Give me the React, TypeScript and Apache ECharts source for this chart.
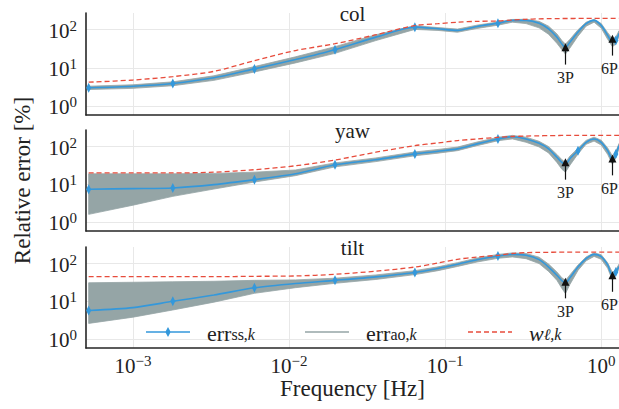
import React, { useEffect, useRef } from 'react';
import * as echarts from 'echarts';

// ---------- data ----------
const FREQ = [0.00052, 0.001, 0.0018, 0.0033, 0.006, 0.011, 0.0197, 0.036, 0.064, 0.09, 0.12, 0.16, 0.218, 0.27, 0.33, 0.40, 0.46, 0.52, 0.56, 0.59, 0.63, 0.71, 0.80, 0.90, 1.00, 1.10, 1.18, 1.24, 1.30];

const PANEL_TITLES = ['col', 'yaw', 'tilt'];

const SS_COL = [3.0, 3.3, 3.9, 5.5, 9.4, 16.5, 30, 64, 117, 106, 96, 122, 149, 176, 176, 149, 106, 64, 42, 34, 47, 87, 144, 176, 130, 71, 48, 52, 80];
const W_COL = [4.2, 4.8, 5.9, 8.1, 15.5, 28.5, 43, 74, 129, 144, 158, 166, 170, 180, 188, 193, 195, 196, 197, 197, 197, 198, 198, 198, 198, 198, 198, 198, 198];
const LO_COL = [2.7, 2.9, 3.4, 4.7, 7.8, 13.5, 24, 52, 102, 96, 86, 108, 132, 158, 145, 112, 76, 44, 30, 23, 33, 68, 124, 158, 110, 56, 36, 42, 66];
const HI_COL = [3.3, 3.6, 4.3, 6.2, 10.8, 19.5, 36, 74, 128, 114, 104, 132, 160, 186, 188, 166, 124, 78, 52, 42, 56, 100, 158, 188, 146, 84, 58, 64, 94];

const SS_YAW = [7.4, 7.7, 8.0, 9.8, 13.3, 19, 33, 45, 64, 75, 87, 118, 159, 183, 159, 122, 87, 52, 38, 33, 48, 78, 130, 159, 130, 78, 46, 64, 106];
const W_YAW = [20, 20, 20, 21, 24.4, 31, 44, 71, 106, 125, 144, 159, 176, 185, 190, 193, 195, 196, 197, 197, 197, 198, 198, 198, 198, 198, 198, 198, 198];
const LO_YAW = [1.6, 2.8, 4.8, 7.5, 11.5, 17, 29, 40, 57, 67, 78, 106, 143, 160, 130, 98, 68, 38, 25, 21, 32, 64, 115, 140, 110, 62, 34, 50, 88];
const HI_YAW = [19, 19, 19, 19.5, 21, 24, 37, 50, 72, 84, 97, 132, 176, 198, 178, 138, 100, 62, 45, 38, 56, 90, 146, 178, 148, 92, 56, 74, 120];

const SS_TILT = [5.7, 6.8, 10, 14.7, 22.8, 29.7, 36, 44.5, 58, 74, 96, 127, 159, 175, 166, 127, 81, 49, 35, 30, 42, 81, 135, 175, 153, 92, 48, 60, 83];
const W_TILT = [45, 45, 45, 45, 46, 47, 52, 63, 81, 104, 130, 149, 166, 185, 195, 198, 199, 200, 200, 200, 200, 200, 200, 200, 200, 200, 200, 200, 200];
const LO_TILT = [2.6, 3.8, 5.9, 9.5, 16.3, 23, 30, 38, 51, 65, 84, 110, 138, 150, 135, 100, 62, 36, 22, 16, 28, 66, 118, 155, 130, 75, 36, 50, 72];
const HI_TILT = [31, 32, 33, 34, 36, 37, 41, 50, 65, 82, 106, 140, 175, 192, 185, 148, 97, 60, 42, 36, 50, 92, 150, 192, 172, 105, 58, 70, 96];

// indices of FREQ that carry a diamond marker
const MARKS_COL = [0, 2, 4, 6, 8, 12, 27];
const MARKS_YAW = [0, 2, 4, 6, 8, 12, 21, 27];
const MARKS_TILT = [0, 2, 4, 6, 8, 12, 27];

// harmonic annotations
const ARROW_FREQ = [0.59, 1.18];
const ARROW_LABELS = ['3P', '6P'];
const ARROW_TIP_COL = [35, 58];
const ARROW_TAIL_COL = [12.2, 21];
const ARROW_TIP_YAW = [38.6, 48.3];
const ARROW_TAIL_YAW = [13.3, 17.3];
const ARROW_TIP_TILT = [32.8, 49.2];
const ARROW_TAIL_TILT = [12, 17.9];
const ARROW_LABEL_SHIFT = [0, -3];

const X_MIN = 5e-4;
const X_MAX = 1.3;
const Y_MIN = 0.58;
const Y_MAX = 275;

const LEGEND_NAMES = ['ss', 'ao', 'w'];

// ---------- style ----------
const FONT = "'Liberation Serif', 'DejaVu Serif', serif";
const TXT = '#222222';
const BLUE = '#3498db';
const GREY = '#95a5a6';
const RED = '#e74c3c';
const GRID_COLOR = '#e8e8e8';
const SPINE = '#262626';

const PANELS = [
  { ss: SS_COL, w: W_COL, lo: LO_COL, hi: HI_COL, marks: MARKS_COL, tip: ARROW_TIP_COL, tail: ARROW_TAIL_COL },
  { ss: SS_YAW, w: W_YAW, lo: LO_YAW, hi: HI_YAW, marks: MARKS_YAW, tip: ARROW_TIP_YAW, tail: ARROW_TAIL_YAW },
  { ss: SS_TILT, w: W_TILT, lo: LO_TILT, hi: HI_TILT, marks: MARKS_TILT, tip: ARROW_TIP_TILT, tail: ARROW_TAIL_TILT },
];

const GRIDS = [
  { left: 86, right: 0, top: 13, height: 102 },
  { left: 86, right: 0, top: 130, height: 101 },
  { left: 86, right: 0, top: 247, height: 101 },
];

function powLabel(v: number): string {
  const l = Math.log10(v);
  const e = Math.round(l);
  if (Math.abs(l - e) > 1e-6) return '';
  const s = e < 0 ? '\u2212' + Math.abs(e) : String(e);
  return '{b|10}{s|' + s + '}';
}

const POW_RICH = {
  b: { fontFamily: FONT, fontSize: 21, color: TXT, lineHeight: 23, verticalAlign: 'bottom' },
  s: { fontFamily: FONT, fontSize: 15, color: TXT, lineHeight: 12, verticalAlign: 'top' },
};

const LEGEND_TEXT: Record<string, string> = {
  ss: '{b|err}{s|ss,}{si|k}',
  ao: '{b|err}{s|ao,}{si|k}',
  w: '{bi|w}{si|\u2113,k}',
};

const LEGEND_RICH = {
  b: { fontFamily: FONT, fontSize: 22, color: TXT, lineHeight: 20, verticalAlign: 'top' },
  bi: { fontFamily: FONT, fontSize: 22, fontStyle: 'italic', color: TXT, lineHeight: 20, verticalAlign: 'top' },
  s: { fontFamily: FONT, fontSize: 16, color: TXT, lineHeight: 10, verticalAlign: 'bottom' },
  si: { fontFamily: FONT, fontSize: 16, fontStyle: 'italic', color: TXT, lineHeight: 10, verticalAlign: 'bottom' },
};

const ICON_SS = 'path://M0 4.3H44V5.7H0Z M22 0L24.7 5L22 10L19.3 5Z';
const ICON_AO = 'path://M0 4.2H44V5.8H0Z';
const ICON_W = 'path://M0 4.2H5V5.8H0Z M8 4.2H13V5.8H8Z M16 4.2H21V5.8H16Z M24 4.2H29V5.8H24Z M32 4.2H37V5.8H32Z M40 4.2H44V5.8H40Z M0 0H0.01V10H0Z';
const LEGEND_ICONS = [ICON_SS, ICON_AO, ICON_W];

function buildOption() {
  const xAxis = GRIDS.map((_, i) => ({
    type: 'log',
    logBase: 10,
    gridIndex: i,
    min: X_MIN,
    max: X_MAX,
    axisLine: { show: true, onZero: false, lineStyle: { color: SPINE, width: 1.6 } },
    axisTick: { show: false },
    splitLine: { show: true, showMinLine: false, showMaxLine: false, lineStyle: { color: GRID_COLOR, width: 1 } },
    axisLabel: { show: i === 2, formatter: powLabel, rich: POW_RICH, margin: 5, showMinLabel: false, showMaxLabel: false },
    name: i === 2 ? 'Frequency [Hz]' : '',
    nameLocation: 'middle',
    nameGap: 22,
    nameTextStyle: { fontFamily: FONT, fontSize: 23, color: TXT, verticalAlign: 'top' },
  }));

  const yAxis = GRIDS.map((_, i) => ({
    type: 'log',
    logBase: 10,
    gridIndex: i,
    min: Y_MIN,
    max: Y_MAX,
    axisLine: { show: true, onZero: false, lineStyle: { color: SPINE, width: 1.6 } },
    axisTick: { show: false },
    splitLine: { show: true, showMinLine: false, showMaxLine: false, lineStyle: { color: GRID_COLOR, width: 1 } },
    axisLabel: { formatter: powLabel, rich: POW_RICH, margin: 9, showMinLabel: false, showMaxLabel: false },
    name: i === 1 ? 'Relative error [%]' : '',
    nameLocation: 'middle',
    nameGap: 52,
    nameTextStyle: { fontFamily: FONT, fontSize: 23, color: TXT },
  }));

  const series: any[] = [];
  PANELS.forEach((p, i) => {
    series.push({
      type: 'custom',
      xAxisIndex: i,
      yAxisIndex: i,
      silent: true,
      z: 1,
      data: FREQ.map((f, k) => [f, p.lo[k], p.hi[k]]),
      encode: { x: 0, y: [1, 2] },
      renderItem: (params: any, api: any) => {
        if (params.dataIndex !== 0) return null;
        const pts: number[][] = [];
        for (let k = 0; k < FREQ.length; k++) pts.push(api.coord([FREQ[k], p.hi[k]]));
        for (let k = FREQ.length - 1; k >= 0; k--) pts.push(api.coord([FREQ[k], p.lo[k]]));
        return { type: 'polygon', shape: { points: pts }, style: { fill: GREY, stroke: GREY, lineWidth: 0.8 } };
      },
    });
    series.push({
      name: 'ss',
      type: 'line',
      xAxisIndex: i,
      yAxisIndex: i,
      z: 3,
      smooth: 0.25,
      symbol: 'diamond',
      symbolSize: [5, 10],
      showSymbol: true,
      showAllSymbol: true,
      lineStyle: { color: BLUE, width: 1.6 },
      itemStyle: { color: BLUE, borderWidth: 0 },
      data: FREQ.map((f, k) => ({ value: [f, p.ss[k]], symbol: p.marks.includes(k) ? 'diamond' : 'none' })),
      markLine: {
        silent: true,
        animation: false,
        symbol: ['none', 'triangle'],
        symbolSize: 8,
        lineStyle: { color: '#111', width: 1.2, type: 'solid' },
        label: { show: true, position: 'start', formatter: '{b}', fontFamily: FONT, fontSize: 16, color: TXT, distance: 5 },
        data: ARROW_FREQ.map((f, k) => [
          { name: ARROW_LABELS[k], coord: [f, p.tail[k]], label: { offset: [ARROW_LABEL_SHIFT[k], 0] } },
          { coord: [f, p.tip[k]] },
        ]),
      },
    });
    series.push({
      name: 'w',
      type: 'line',
      xAxisIndex: i,
      yAxisIndex: i,
      z: 4,
      smooth: 0.3,
      symbol: 'none',
      lineStyle: { color: RED, width: 1.3, type: [5, 3] },
      itemStyle: { color: RED },
      data: FREQ.map((f, k) => [f, p.w[k]]),
    });
  });
  series.push({
    name: 'ao',
    type: 'line',
    xAxisIndex: 0,
    yAxisIndex: 0,
    symbol: 'none',
    lineStyle: { color: GREY, width: 1.6 },
    itemStyle: { color: GREY },
    data: [],
  });

  const legendCommon = {
    orient: 'horizontal',
    padding: 0,
    itemWidth: 44,
    itemHeight: 10,
    selectedMode: false,
    formatter: (n: string) => LEGEND_TEXT[n],
    textStyle: { padding: [0, 0, 0, 12], rich: LEGEND_RICH },
  };
  const legendLeft = [146, 305, 468];
  const legend = LEGEND_NAMES.map((n, i) => ({
    ...legendCommon,
    left: legendLeft[i],
    top: 322,
    data: [{ name: n, icon: LEGEND_ICONS[i] }],
  }));

  const title = PANEL_TITLES.map((t, i) => ({
    text: t,
    left: 352.5,
    textAlign: 'center',
    top: GRIDS[i].top - 10,
    padding: 0,
    textStyle: { fontFamily: FONT, fontSize: 21, fontWeight: 'normal', color: TXT },
  }));

  return {
    animation: false,
    textStyle: { fontFamily: FONT },
    grid: GRIDS,
    xAxis,
    yAxis,
    series,
    legend,
    title,
  };
}

export default function App() {
  const ref = useRef<HTMLDivElement>(null);
  useEffect(() => {
    const chart = echarts.init(ref.current as HTMLDivElement, null, { renderer: 'svg' });
    chart.setOption(buildOption() as any);
    return () => chart.dispose();
  }, []);
  return <div ref={ref} style={{ position: 'fixed', left: 0, top: 0, width: 619, height: 409, background: '#fff' }} />;
}
